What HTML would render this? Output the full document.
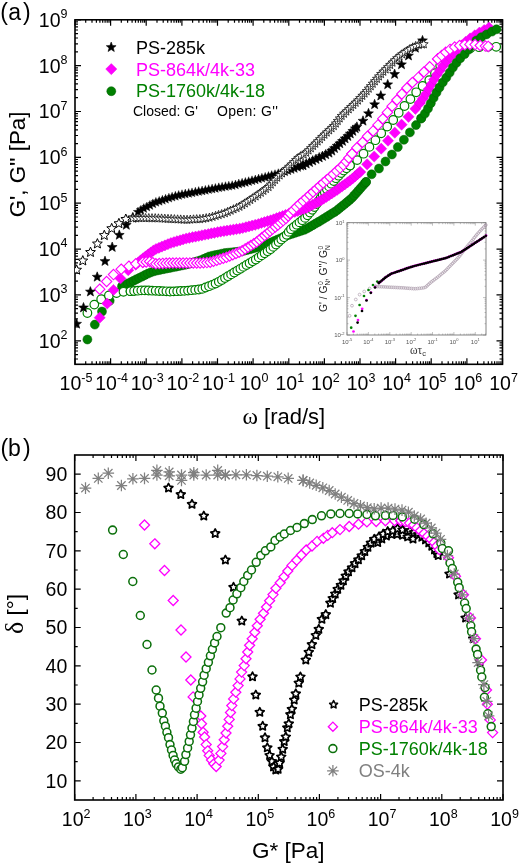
<!DOCTYPE html>
<html><head><meta charset="utf-8"><title>Rheology figure</title>
<style>html,body{margin:0;padding:0;background:#fff;width:520px;height:865px;overflow:hidden}svg{display:block;filter:blur(0.4px)}text{font-family:"Liberation Sans",sans-serif}</style>
</head><body>
<svg width="520" height="865" viewBox="0 0 520 865" font-family='"Liberation Sans", sans-serif'><defs><clipPath id="clipT"><rect x="75" y="19.8" width="427.5" height="344.5"/></clipPath><clipPath id="clipB"><rect x="74.7" y="455" width="428.3" height="345"/></clipPath></defs><defs><path id="sf" d="M0,-5.2 L1.3,-1.8 L4.9,-1.6 L2.1,0.7 L3.1,4.2 L0,2.2 L-3.1,4.2 L-2.1,0.7 L-4.9,-1.6 L-1.3,-1.8Z" fill="#000" stroke="#000" stroke-width="0.6" stroke-linejoin="round"/><path id="sfs" d="M0,-4.9 L1.2,-1.7 L4.7,-1.5 L2,0.6 L2.9,4 L0,2.1 L-2.9,4 L-2,0.6 L-4.7,-1.5 L-1.2,-1.7Z" fill="#000" stroke="#000" stroke-width="0.4" stroke-linejoin="round"/><path id="so" d="M0,-4.6 L1.4,-1.9 L4.4,-1.4 L2.2,0.7 L2.7,3.7 L0,2.3 L-2.7,3.7 L-2.2,0.7 L-4.4,-1.4 L-1.4,-1.9Z" fill="#fff" stroke="#000" stroke-width="1.7" stroke-linejoin="round"/><path id="sot" d="M0,-5.2 L1.4,-1.9 L4.9,-1.6 L2.2,0.7 L3.1,4.2 L0,2.3 L-3.1,4.2 L-2.2,0.7 L-4.9,-1.6 L-1.4,-1.9Z" fill="#fff" stroke="#000" stroke-width="1.0" stroke-linejoin="round"/><path id="sos" d="M0,-4.6 L1.2,-1.6 L4.4,-1.4 L1.9,0.6 L2.7,3.7 L0,2 L-2.7,3.7 L-1.9,0.6 L-4.4,-1.4 L-1.2,-1.6Z" fill="#fff" stroke="#000" stroke-width="0.75" stroke-linejoin="round"/><path id="dfm" d="M0,-5.6L5.6,0L0,5.6L-5.6,0Z" fill="#ff00ff" stroke="#e000e0" stroke-width="0.4"/><path id="dom" d="M0,-5.2L5.2,0L0,5.2L-5.2,0Z" fill="#fff" stroke="#ff00ff" stroke-width="1.1"/><path id="dob" d="M0,-5L5,0L0,5L-5,0Z" fill="#fff" stroke="#ff00ff" stroke-width="1.3"/><circle id="cob" r="3.95" fill="#fff" stroke="#0c700c" stroke-width="1.55"/><path id="sol" d="M0,-4.1 L1.2,-1.6 L3.9,-1.3 L1.9,0.6 L2.4,3.3 L0,2 L-2.4,3.3 L-1.9,0.6 L-3.9,-1.3 L-1.2,-1.6Z" fill="#fff" stroke="#000" stroke-width="1.6" stroke-linejoin="round"/><path id="dol" d="M0,-4.6L4.6,0L0,4.6L-4.6,0Z" fill="#fff" stroke="#ff00ff" stroke-width="1.3"/><circle id="cfg" r="4.5" fill="#008000" stroke="#006000" stroke-width="0.5"/><circle id="cog" r="4.3" fill="#fff" stroke="#008000" stroke-width="1.2"/><circle id="cogb" r="4" fill="none" stroke="#0a7a0a" stroke-width="1.3"/><path id="ast" d="M0,-5.8V5.8M-5.8,0H5.8M-4.2,-4.2L4.2,4.2M-4.2,4.2L4.2,-4.2" stroke="#808080" stroke-width="1.25" fill="none"/><circle id="ik" r="1.35" fill="#000"/><circle id="im" r="1.35" fill="#ff00ff"/><circle id="ig" r="1.35" fill="#008000"/><circle id="io" r="1.4" fill="none" stroke="#a898a8" stroke-width="0.65"/></defs><g><path d="M75,364.3v-6M75,19.8v6M85.7,364.3v-3M85.7,19.8v3M92,364.3v-3M92,19.8v3M96.4,364.3v-3M96.4,19.8v3M99.9,364.3v-3M99.9,19.8v3M102.7,364.3v-3M102.7,19.8v3M105.1,364.3v-3M105.1,19.8v3M107.2,364.3v-3M107.2,19.8v3M109,364.3v-3M109,19.8v3M110.6,364.3v-6M110.6,19.8v6M121.3,364.3v-3M121.3,19.8v3M127.6,364.3v-3M127.6,19.8v3M132.1,364.3v-3M132.1,19.8v3M135.5,364.3v-3M135.5,19.8v3M138.3,364.3v-3M138.3,19.8v3M140.7,364.3v-3M140.7,19.8v3M142.8,364.3v-3M142.8,19.8v3M144.6,364.3v-3M144.6,19.8v3M146.2,364.3v-6M146.2,19.8v6M157,364.3v-3M157,19.8v3M163.2,364.3v-3M163.2,19.8v3M167.7,364.3v-3M167.7,19.8v3M171.2,364.3v-3M171.2,19.8v3M174,364.3v-3M174,19.8v3M176.4,364.3v-3M176.4,19.8v3M178.4,364.3v-3M178.4,19.8v3M180.2,364.3v-3M180.2,19.8v3M181.9,364.3v-6M181.9,19.8v6M192.6,364.3v-3M192.6,19.8v3M198.9,364.3v-3M198.9,19.8v3M203.3,364.3v-3M203.3,19.8v3M206.8,364.3v-3M206.8,19.8v3M209.6,364.3v-3M209.6,19.8v3M212,364.3v-3M212,19.8v3M214,364.3v-3M214,19.8v3M215.9,364.3v-3M215.9,19.8v3M217.5,364.3v-6M217.5,19.8v6M228.2,364.3v-3M228.2,19.8v3M234.5,364.3v-3M234.5,19.8v3M238.9,364.3v-3M238.9,19.8v3M242.4,364.3v-3M242.4,19.8v3M245.2,364.3v-3M245.2,19.8v3M247.6,364.3v-3M247.6,19.8v3M249.7,364.3v-3M249.7,19.8v3M251.5,364.3v-3M251.5,19.8v3M253.1,364.3v-6M253.1,19.8v6M263.8,364.3v-3M263.8,19.8v3M270.1,364.3v-3M270.1,19.8v3M274.6,364.3v-3M274.6,19.8v3M278,364.3v-3M278,19.8v3M280.8,364.3v-3M280.8,19.8v3M283.2,364.3v-3M283.2,19.8v3M285.3,364.3v-3M285.3,19.8v3M287.1,364.3v-3M287.1,19.8v3M288.8,364.3v-6M288.8,19.8v6M299.5,364.3v-3M299.5,19.8v3M305.7,364.3v-3M305.7,19.8v3M310.2,364.3v-3M310.2,19.8v3M313.7,364.3v-3M313.7,19.8v3M316.5,364.3v-3M316.5,19.8v3M318.9,364.3v-3M318.9,19.8v3M320.9,364.3v-3M320.9,19.8v3M322.7,364.3v-3M322.7,19.8v3M324.4,364.3v-6M324.4,19.8v6M335.1,364.3v-3M335.1,19.8v3M341.4,364.3v-3M341.4,19.8v3M345.8,364.3v-3M345.8,19.8v3M349.3,364.3v-3M349.3,19.8v3M352.1,364.3v-3M352.1,19.8v3M354.5,364.3v-3M354.5,19.8v3M356.5,364.3v-3M356.5,19.8v3M358.4,364.3v-3M358.4,19.8v3M360,364.3v-6M360,19.8v6M370.7,364.3v-3M370.7,19.8v3M377,364.3v-3M377,19.8v3M381.4,364.3v-3M381.4,19.8v3M384.9,364.3v-3M384.9,19.8v3M387.7,364.3v-3M387.7,19.8v3M390.1,364.3v-3M390.1,19.8v3M392.2,364.3v-3M392.2,19.8v3M394,364.3v-3M394,19.8v3M395.6,364.3v-6M395.6,19.8v6M406.3,364.3v-3M406.3,19.8v3M412.6,364.3v-3M412.6,19.8v3M417.1,364.3v-3M417.1,19.8v3M420.5,364.3v-3M420.5,19.8v3M423.3,364.3v-3M423.3,19.8v3M425.7,364.3v-3M425.7,19.8v3M427.8,364.3v-3M427.8,19.8v3M429.6,364.3v-3M429.6,19.8v3M431.2,364.3v-6M431.2,19.8v6M442,364.3v-3M442,19.8v3M448.2,364.3v-3M448.2,19.8v3M452.7,364.3v-3M452.7,19.8v3M456.2,364.3v-3M456.2,19.8v3M459,364.3v-3M459,19.8v3M461.4,364.3v-3M461.4,19.8v3M463.4,364.3v-3M463.4,19.8v3M465.2,364.3v-3M465.2,19.8v3M466.9,364.3v-6M466.9,19.8v6M477.6,364.3v-3M477.6,19.8v3M483.9,364.3v-3M483.9,19.8v3M488.3,364.3v-3M488.3,19.8v3M491.8,364.3v-3M491.8,19.8v3M494.6,364.3v-3M494.6,19.8v3M497,364.3v-3M497,19.8v3M499,364.3v-3M499,19.8v3M500.9,364.3v-3M500.9,19.8v3M502.5,364.3v-6M502.5,19.8v6" stroke="#000" stroke-width="1.2" fill="none"/><path d="M75,359h3M502.5,359h-3M75,354.6h3M502.5,354.6h-3M75,351h3M502.5,351h-3M75,347.9h3M502.5,347.9h-3M75,345.2h3M502.5,345.2h-3M75,342.9h3M502.5,342.9h-3M75,340.8h6M502.5,340.8h-6M75,327h3M502.5,327h-3M75,318.9h3M502.5,318.9h-3M75,313.2h3M502.5,313.2h-3M75,308.7h3M502.5,308.7h-3M75,305.1h3M502.5,305.1h-3M75,302h3M502.5,302h-3M75,299.4h3M502.5,299.4h-3M75,297h3M502.5,297h-3M75,294.9h6M502.5,294.9h-6M75,281.1h3M502.5,281.1h-3M75,273.1h3M502.5,273.1h-3M75,267.3h3M502.5,267.3h-3M75,262.9h3M502.5,262.9h-3M75,259.3h3M502.5,259.3h-3M75,256.2h3M502.5,256.2h-3M75,253.5h3M502.5,253.5h-3M75,251.2h3M502.5,251.2h-3M75,249.1h6M502.5,249.1h-6M75,235.3h3M502.5,235.3h-3M75,227.2h3M502.5,227.2h-3M75,221.5h3M502.5,221.5h-3M75,217h3M502.5,217h-3M75,213.4h3M502.5,213.4h-3M75,210.3h3M502.5,210.3h-3M75,207.7h3M502.5,207.7h-3M75,205.3h3M502.5,205.3h-3M75,203.2h6M502.5,203.2h-6M75,189.4h3M502.5,189.4h-3M75,181.3h3M502.5,181.3h-3M75,175.6h3M502.5,175.6h-3M75,171.2h3M502.5,171.2h-3M75,167.5h3M502.5,167.5h-3M75,164.5h3M502.5,164.5h-3M75,161.8h3M502.5,161.8h-3M75,159.5h3M502.5,159.5h-3M75,157.4h6M502.5,157.4h-6M75,143.6h3M502.5,143.6h-3M75,135.5h3M502.5,135.5h-3M75,129.8h3M502.5,129.8h-3M75,125.3h3M502.5,125.3h-3M75,121.7h3M502.5,121.7h-3M75,118.6h3M502.5,118.6h-3M75,116h3M502.5,116h-3M75,113.6h3M502.5,113.6h-3M75,111.5h6M502.5,111.5h-6M75,97.7h3M502.5,97.7h-3M75,89.6h3M502.5,89.6h-3M75,83.9h3M502.5,83.9h-3M75,79.5h3M502.5,79.5h-3M75,75.8h3M502.5,75.8h-3M75,72.8h3M502.5,72.8h-3M75,70.1h3M502.5,70.1h-3M75,67.8h3M502.5,67.8h-3M75,65.7h6M502.5,65.7h-6M75,51.9h3M502.5,51.9h-3M75,43.8h3M502.5,43.8h-3M75,38h3M502.5,38h-3M75,33.6h3M502.5,33.6h-3M75,30h3M502.5,30h-3M75,26.9h3M502.5,26.9h-3M75,24.2h3M502.5,24.2h-3M75,21.9h3M502.5,21.9h-3M75,19.8h6M502.5,19.8h-6" stroke="#000" stroke-width="1.2" fill="none"/><rect x="75" y="19.8" width="427.5" height="344.5" fill="none" stroke="#000" stroke-width="1.6"/><text x="67.5" y="347.6" font-size="19.5" text-anchor="end" fill="#000">10<tspan font-size="12.5" dy="-8.5">2</tspan></text><text x="67.5" y="301.7" font-size="19.5" text-anchor="end" fill="#000">10<tspan font-size="12.5" dy="-8.5">3</tspan></text><text x="67.5" y="255.9" font-size="19.5" text-anchor="end" fill="#000">10<tspan font-size="12.5" dy="-8.5">4</tspan></text><text x="67.5" y="210" font-size="19.5" text-anchor="end" fill="#000">10<tspan font-size="12.5" dy="-8.5">5</tspan></text><text x="67.5" y="164.2" font-size="19.5" text-anchor="end" fill="#000">10<tspan font-size="12.5" dy="-8.5">6</tspan></text><text x="67.5" y="118.3" font-size="19.5" text-anchor="end" fill="#000">10<tspan font-size="12.5" dy="-8.5">7</tspan></text><text x="67.5" y="72.5" font-size="19.5" text-anchor="end" fill="#000">10<tspan font-size="12.5" dy="-8.5">8</tspan></text><text x="67.5" y="26.6" font-size="19.5" text-anchor="end" fill="#000">10<tspan font-size="12.5" dy="-8.5">9</tspan></text><text x="76" y="390" font-size="19.5" text-anchor="middle" fill="#000">10<tspan font-size="12.5" dy="-8.5">-5</tspan></text><text x="111.6" y="390" font-size="19.5" text-anchor="middle" fill="#000">10<tspan font-size="12.5" dy="-8.5">-4</tspan></text><text x="147.2" y="390" font-size="19.5" text-anchor="middle" fill="#000">10<tspan font-size="12.5" dy="-8.5">-3</tspan></text><text x="182.9" y="390" font-size="19.5" text-anchor="middle" fill="#000">10<tspan font-size="12.5" dy="-8.5">-2</tspan></text><text x="218.5" y="390" font-size="19.5" text-anchor="middle" fill="#000">10<tspan font-size="12.5" dy="-8.5">-1</tspan></text><text x="254.1" y="390" font-size="19.5" text-anchor="middle" fill="#000">10<tspan font-size="12.5" dy="-8.5">0</tspan></text><text x="289.8" y="390" font-size="19.5" text-anchor="middle" fill="#000">10<tspan font-size="12.5" dy="-8.5">1</tspan></text><text x="325.4" y="390" font-size="19.5" text-anchor="middle" fill="#000">10<tspan font-size="12.5" dy="-8.5">2</tspan></text><text x="361" y="390" font-size="19.5" text-anchor="middle" fill="#000">10<tspan font-size="12.5" dy="-8.5">3</tspan></text><text x="396.6" y="390" font-size="19.5" text-anchor="middle" fill="#000">10<tspan font-size="12.5" dy="-8.5">4</tspan></text><text x="432.2" y="390" font-size="19.5" text-anchor="middle" fill="#000">10<tspan font-size="12.5" dy="-8.5">5</tspan></text><text x="467.9" y="390" font-size="19.5" text-anchor="middle" fill="#000">10<tspan font-size="12.5" dy="-8.5">6</tspan></text><text x="503.5" y="390" font-size="19.5" text-anchor="middle" fill="#000">10<tspan font-size="12.5" dy="-8.5">7</tspan></text></g><text x="0.3" y="19.8" font-size="23" text-anchor="start" fill="#000">(</text><text x="8.3" y="19.8" font-size="23" text-anchor="start" fill="#000">a</text><text x="23.1" y="19.8" font-size="23" text-anchor="start" fill="#000">)</text><text x="0" y="0" font-size="22.3" text-anchor="middle" transform="translate(25,164.5) rotate(-90)">G', G'' [Pa]</text><text x="283.8" y="424" font-size="22" text-anchor="middle"><tspan font-family="Liberation Serif" font-size="23.5">ω</tspan> [rad/s]</text><use href="#sf" x="111.2" y="47.3"/><use href="#dfm" x="111.3" y="69.1"/><use href="#cfg" x="111.3" y="91.2"/><text x="136" y="53.6" font-size="18" text-anchor="start" fill="#000">PS-285k</text><text x="136" y="75.5" font-size="18" text-anchor="start" fill="#ff00ff">PS-864k/4k-33</text><text x="136" y="97.3" font-size="18" text-anchor="start" fill="#008000">PS-1760k/4k-18</text><text x="133" y="116" font-size="14" text-anchor="start" fill="#000">Closed: G'</text><text x="217" y="116" font-size="14" text-anchor="start" fill="#000" textLength="61" lengthAdjust="spacing">Open: G''</text><g clip-path="url(#clipT)"><use href="#cfg" x="87.4" y="339.5"/><use href="#cfg" x="94.8" y="324.6"/><use href="#cfg" x="102" y="311.5"/><use href="#cfg" x="109.7" y="300.8"/><use href="#cfg" x="116" y="292.5"/><use href="#cfg" x="122" y="286.2"/><use href="#cfg" x="124.9" y="284.9"/><use href="#cfg" x="127.8" y="283.5"/><use href="#cfg" x="130.7" y="282.2"/><use href="#cfg" x="133.6" y="280.8"/><use href="#cfg" x="136.4" y="279.3"/><use href="#cfg" x="139.3" y="277.9"/><use href="#cfg" x="142.2" y="276.5"/><use href="#cfg" x="145" y="275"/><use href="#cfg" x="147.9" y="273.6"/><use href="#cfg" x="150.8" y="272.4"/><use href="#cfg" x="153.9" y="271.3"/><use href="#cfg" x="156.9" y="270.5"/><use href="#cfg" x="160.1" y="269.9"/><use href="#cfg" x="163.2" y="269.2"/><use href="#cfg" x="166.4" y="268.6"/><use href="#cfg" x="169.5" y="268"/><use href="#cfg" x="172.6" y="267.3"/><use href="#cfg" x="175.8" y="266.7"/><use href="#cfg" x="178.9" y="266.1"/><use href="#cfg" x="182" y="265.4"/><use href="#cfg" x="185.2" y="264.8"/><use href="#cfg" x="188.3" y="264"/><use href="#cfg" x="191.3" y="263.1"/><use href="#cfg" x="194.4" y="262.1"/><use href="#cfg" x="197.5" y="261.2"/><use href="#cfg" x="200.5" y="260.3"/><use href="#cfg" x="203.5" y="259.1"/><use href="#cfg" x="206.4" y="257.8"/><use href="#cfg" x="209.3" y="256.5"/><use href="#cfg" x="212.4" y="255.7"/><use href="#cfg" x="215.6" y="255"/><use href="#cfg" x="218.7" y="254.4"/><use href="#cfg" x="221.8" y="253.7"/><use href="#cfg" x="224.9" y="253.1"/><use href="#cfg" x="228.1" y="252.7"/><use href="#cfg" x="231.3" y="252.4"/><use href="#cfg" x="234.5" y="252.1"/><use href="#cfg" x="237.7" y="251.8"/><use href="#cfg" x="240.9" y="251.5"/><use href="#cfg" x="244" y="250.7"/><use href="#cfg" x="247.1" y="250"/><use href="#cfg" x="250.2" y="249.2"/><use href="#cfg" x="253.3" y="248.4"/><use href="#cfg" x="256.4" y="247.6"/><use href="#cfg" x="259.4" y="246.6"/><use href="#cfg" x="262.4" y="245.5"/><use href="#cfg" x="265.4" y="244.4"/><use href="#cfg" x="268.5" y="243.4"/><use href="#cfg" x="271.5" y="242.3"/><use href="#cfg" x="274.4" y="241"/><use href="#cfg" x="277.3" y="239.7"/><use href="#cfg" x="280.3" y="238.4"/><use href="#cfg" x="283.2" y="237.1"/><use href="#cfg" x="286.1" y="235.8"/><use href="#cfg" x="289.1" y="234.8"/><use href="#cfg" x="292.2" y="233.8"/><use href="#cfg" x="295.2" y="232.8"/><use href="#cfg" x="298.3" y="231.8"/><use href="#cfg" x="301.3" y="230.8"/><use href="#cfg" x="304.4" y="229.8"/><use href="#cfg" x="307.2" y="228.4"/><use href="#cfg" x="310" y="226.8"/><use href="#cfg" x="312.7" y="225.2"/><use href="#cfg" x="315.5" y="223.6"/><use href="#cfg" x="318.3" y="222"/><use href="#cfg" x="321" y="220.4"/><use href="#cfg" x="323.7" y="218.7"/><use href="#cfg" x="326.5" y="217"/><use href="#cfg" x="329.2" y="215.3"/><use href="#cfg" x="331.9" y="213.6"/><use href="#cfg" x="334.6" y="212"/><use href="#cfg" x="337.3" y="210.1"/><use href="#cfg" x="339.7" y="208.1"/><use href="#cfg" x="342.2" y="206.1"/><use href="#cfg" x="344.7" y="204.1"/><use href="#cfg" x="347.2" y="202"/><use href="#cfg" x="349.6" y="200"/><use href="#cfg" x="352" y="197.9"/><use href="#cfg" x="354.1" y="195.5"/><use href="#cfg" x="356.3" y="193.1"/><use href="#cfg" x="358.4" y="190.7"/><use href="#cfg" x="360.5" y="188.3"/><use href="#cfg" x="362.6" y="185.9"/><use href="#cfg" x="364.7" y="183.5"/><use href="#cfg" x="366" y="182"/><use href="#cog" x="87.4" y="313"/><use href="#cog" x="94.3" y="304.6"/><use href="#cog" x="101.2" y="299.2"/><use href="#cog" x="108.9" y="295.4"/><use href="#cog" x="116.6" y="293"/><use href="#cog" x="123.5" y="291.8"/><use href="#cog" x="130.5" y="291.2"/><use href="#cog" x="130.5" y="291.2"/><use href="#cog" x="134.1" y="291"/><use href="#cog" x="137.7" y="290.7"/><use href="#cog" x="141.3" y="290.4"/><use href="#cog" x="144.9" y="290.4"/><use href="#cog" x="148.5" y="290.5"/><use href="#cog" x="152.1" y="290.7"/><use href="#cog" x="155.7" y="290.8"/><use href="#cog" x="159.3" y="291"/><use href="#cog" x="162.8" y="291.1"/><use href="#cog" x="166.4" y="291.3"/><use href="#cog" x="170" y="291.5"/><use href="#cog" x="173.6" y="291.4"/><use href="#cog" x="177.2" y="291.2"/><use href="#cog" x="180.8" y="291"/><use href="#cog" x="184.4" y="290.9"/><use href="#cog" x="188" y="290.6"/><use href="#cog" x="191.6" y="290.2"/><use href="#cog" x="195.2" y="289.9"/><use href="#cog" x="198.8" y="289.5"/><use href="#cog" x="202.3" y="288.9"/><use href="#cog" x="205.6" y="287.5"/><use href="#cog" x="209" y="286.2"/><use href="#cog" x="212.3" y="284.9"/><use href="#cog" x="215.6" y="283.5"/><use href="#cog" x="218.8" y="281.8"/><use href="#cog" x="221.9" y="280"/><use href="#cog" x="225" y="278.1"/><use href="#cog" x="228" y="276.2"/><use href="#cog" x="231.1" y="274.4"/><use href="#cog" x="234.2" y="272.5"/><use href="#cog" x="237.3" y="270.6"/><use href="#cog" x="240.4" y="268.8"/><use href="#cog" x="243.4" y="266.9"/><use href="#cog" x="246.5" y="265"/><use href="#cog" x="249.6" y="263.2"/><use href="#cog" x="252.7" y="261.3"/><use href="#cog" x="255.8" y="259.5"/><use href="#cog" x="258.7" y="257.4"/><use href="#cog" x="261.7" y="255.4"/><use href="#cog" x="264.6" y="253.3"/><use href="#cog" x="267.6" y="251.2"/><use href="#cog" x="270.5" y="249.2"/><use href="#cog" x="273.3" y="246.9"/><use href="#cog" x="276" y="244.5"/><use href="#cog" x="278.6" y="242.1"/><use href="#cog" x="281.3" y="239.6"/><use href="#cog" x="284" y="237.2"/><use href="#cog" x="286.7" y="234.8"/><use href="#cog" x="288.7" y="231.9"/><use href="#cog" x="291" y="229.2"/><use href="#cog" x="293.9" y="226.9"/><use href="#cog" x="296.7" y="224.7"/><use href="#cog" x="299.5" y="222.4"/><use href="#cog" x="302.3" y="220.2"/><use href="#cog" x="305.1" y="217.9"/><use href="#cog" x="307.5" y="215.3"/><use href="#cog" x="309.9" y="212.6"/><use href="#cog" x="312.3" y="209.8"/><use href="#cog" x="314.4" y="207"/><use href="#cog" x="316.5" y="204"/><use href="#cog" x="318.5" y="201.1"/><use href="#cog" x="320.6" y="198.1"/><use href="#cog" x="322.7" y="195.2"/><use href="#cog" x="324.8" y="192.3"/><use href="#cog" x="326.9" y="189.3"/><use href="#cog" x="329" y="186.4"/><use href="#cog" x="331.3" y="183.7"/><use href="#cog" x="333.7" y="181"/><use href="#cog" x="336" y="178.2"/><use href="#cog" x="338.6" y="175.7"/><use href="#cog" x="341.1" y="173.1"/><use href="#cog" x="343.7" y="170.6"/><use href="#cog" x="346.5" y="168.3"/><use href="#cog" x="350" y="165.5"/><use href="#cog" x="350" y="165.5"/><use href="#cog" x="357.2" y="160.1"/><use href="#cog" x="363.5" y="153.7"/><use href="#cog" x="369.4" y="146.9"/><use href="#cog" x="375.4" y="140.2"/><use href="#cog" x="381.2" y="133.3"/><use href="#cog" x="387.2" y="126.6"/><use href="#cog" x="393.2" y="120"/><use href="#cog" x="398.7" y="112.8"/><use href="#cog" x="404.5" y="106"/><use href="#cog" x="410.4" y="99.1"/><use href="#cog" x="416.2" y="92.3"/><use href="#cog" x="422.6" y="86"/><use href="#cog" x="429.3" y="80.1"/><use href="#cog" x="435" y="73.2"/><use href="#cog" x="440.2" y="65.8"/><use href="#cog" x="446.1" y="59"/><use href="#cog" x="453.1" y="53.4"/><use href="#cog" x="461.5" y="50.4"/><use href="#cog" x="470.3" y="48.4"/><use href="#cog" x="479.1" y="47.2"/><use href="#cog" x="488.1" y="46.8"/><use href="#cog" x="496.2" y="46.8"/><use href="#dfm" x="99.7" y="317.7"/><use href="#dfm" x="107.2" y="303.5"/><use href="#dfm" x="113.5" y="290"/><use href="#dfm" x="120.5" y="278.5"/><use href="#dfm" x="128.2" y="270.2"/><use href="#dfm" x="135.8" y="264.6"/><use href="#dfm" x="138.2" y="262.5"/><use href="#dfm" x="140.6" y="260.4"/><use href="#dfm" x="143.1" y="258.3"/><use href="#dfm" x="145.6" y="256.4"/><use href="#dfm" x="148.2" y="254.4"/><use href="#dfm" x="150.7" y="252.6"/><use href="#dfm" x="153.3" y="250.7"/><use href="#dfm" x="156" y="249"/><use href="#dfm" x="159" y="247.8"/><use href="#dfm" x="161.9" y="246.6"/><use href="#dfm" x="164.9" y="245.4"/><use href="#dfm" x="167.9" y="244.2"/><use href="#dfm" x="170.9" y="243"/><use href="#dfm" x="173.9" y="242.1"/><use href="#dfm" x="177" y="241.2"/><use href="#dfm" x="180.1" y="240.3"/><use href="#dfm" x="183.1" y="239.4"/><use href="#dfm" x="186.2" y="238.5"/><use href="#dfm" x="189.3" y="237.9"/><use href="#dfm" x="192.5" y="237.2"/><use href="#dfm" x="195.6" y="236.6"/><use href="#dfm" x="198.8" y="236"/><use href="#dfm" x="201.9" y="235.3"/><use href="#dfm" x="205" y="234.7"/><use href="#dfm" x="208.2" y="234.1"/><use href="#dfm" x="211.3" y="233.4"/><use href="#dfm" x="214.4" y="232.8"/><use href="#dfm" x="217.6" y="232.2"/><use href="#dfm" x="220.7" y="231.6"/><use href="#dfm" x="223.9" y="231.1"/><use href="#dfm" x="227" y="230.6"/><use href="#dfm" x="230.2" y="230.1"/><use href="#dfm" x="233.4" y="229.6"/><use href="#dfm" x="236.5" y="229.1"/><use href="#dfm" x="239.7" y="228.7"/><use href="#dfm" x="242.8" y="228"/><use href="#dfm" x="245.9" y="227.2"/><use href="#dfm" x="249" y="226.4"/><use href="#dfm" x="252.1" y="225.6"/><use href="#dfm" x="255.2" y="224.8"/><use href="#dfm" x="258.3" y="224"/><use href="#dfm" x="261.4" y="223"/><use href="#dfm" x="264.4" y="222.1"/><use href="#dfm" x="267.5" y="221.2"/><use href="#dfm" x="270.6" y="220.3"/><use href="#dfm" x="273.6" y="219.3"/><use href="#dfm" x="276.6" y="218.2"/><use href="#dfm" x="279.6" y="217.1"/><use href="#dfm" x="282.6" y="216"/><use href="#dfm" x="285.6" y="214.9"/><use href="#dfm" x="288.7" y="213.9"/><use href="#dfm" x="291.7" y="212.9"/><use href="#dfm" x="294.8" y="211.9"/><use href="#dfm" x="297.8" y="211"/><use href="#dfm" x="300.9" y="210"/><use href="#dfm" x="303.9" y="209"/><use href="#dfm" x="306.8" y="207.8"/><use href="#dfm" x="309.7" y="206.3"/><use href="#dfm" x="312.5" y="204.8"/><use href="#dfm" x="315.4" y="203.3"/><use href="#dfm" x="318.2" y="201.9"/><use href="#dfm" x="321" y="200.4"/><use href="#dfm" x="323.7" y="198.6"/><use href="#dfm" x="326.4" y="196.9"/><use href="#dfm" x="329.1" y="195.1"/><use href="#dfm" x="331.8" y="193.4"/><use href="#dfm" x="334.4" y="191.6"/><use href="#dfm" x="337.1" y="189.9"/><use href="#dfm" x="339.7" y="188"/><use href="#dfm" x="342.3" y="186.1"/><use href="#dfm" x="344.9" y="184.3"/><use href="#dfm" x="347.5" y="182.4"/><use href="#dfm" x="350.1" y="180.5"/><use href="#dfm" x="352.6" y="178.5"/><use href="#dfm" x="355" y="176.4"/><use href="#dfm" x="357.4" y="174.3"/><use href="#dfm" x="360" y="172"/><use href="#dfm" x="360" y="172"/><use href="#dfm" x="367.1" y="164.3"/><use href="#dfm" x="374.2" y="156.5"/><use href="#dfm" x="381.2" y="148.7"/><use href="#dfm" x="388" y="140.7"/><use href="#dfm" x="394.8" y="132.7"/><use href="#dfm" x="401.6" y="124.7"/><use href="#dfm" x="408.5" y="116.8"/><use href="#dfm" x="415.4" y="108.8"/><use href="#dfm" x="419.8" y="103"/><use href="#dfm" x="419.8" y="103"/><use href="#dfm" x="422.9" y="98.5"/><use href="#dfm" x="426" y="93.9"/><use href="#dfm" x="428.7" y="89.1"/><use href="#dfm" x="431.4" y="84.3"/><use href="#dfm" x="434.1" y="79.5"/><use href="#dfm" x="436.8" y="74.8"/><use href="#dfm" x="440" y="70.3"/><use href="#dfm" x="443.2" y="65.8"/><use href="#dfm" x="446.6" y="61.5"/><use href="#dfm" x="450" y="57.2"/><use href="#dfm" x="453.8" y="53.2"/><use href="#dfm" x="457.7" y="49.3"/><use href="#dfm" x="461.6" y="45.4"/><use href="#dfm" x="465.7" y="41.8"/><use href="#dfm" x="470.1" y="38.4"/><use href="#dfm" x="474.7" y="35.4"/><use href="#dfm" x="479.4" y="32.6"/><use href="#dfm" x="484.2" y="30"/><use href="#dfm" x="489" y="27.5"/><use href="#cfg" x="366" y="182"/><use href="#cfg" x="371.6" y="174.3"/><use href="#cfg" x="379" y="168.5"/><use href="#cfg" x="385.5" y="161.5"/><use href="#cfg" x="391.9" y="154.5"/><use href="#cfg" x="397.8" y="147.1"/><use href="#cfg" x="403.9" y="139.8"/><use href="#cfg" x="409.9" y="132.4"/><use href="#cfg" x="416" y="125.1"/><use href="#cfg" x="421.2" y="118.4"/><use href="#cfg" x="421.2" y="118.4"/><use href="#cfg" x="424.9" y="113.6"/><use href="#cfg" x="428" y="108.5"/><use href="#cfg" x="430.8" y="103.2"/><use href="#cfg" x="433.6" y="97.9"/><use href="#cfg" x="436.5" y="92.6"/><use href="#cfg" x="439.5" y="87.5"/><use href="#cfg" x="442.8" y="82.4"/><use href="#cfg" x="446.3" y="77.6"/><use href="#cfg" x="449.7" y="72.6"/><use href="#cfg" x="452.9" y="67.5"/><use href="#cfg" x="456.5" y="62.8"/><use href="#cfg" x="460.3" y="58.2"/><use href="#cfg" x="464.7" y="54.1"/><use href="#cfg" x="468.7" y="49.6"/><use href="#cfg" x="472.6" y="45"/><use href="#cfg" x="476.4" y="40.4"/><use href="#cfg" x="481.3" y="37.2"/><use href="#cfg" x="486.6" y="34.4"/><use href="#cfg" x="491.9" y="31.6"/><use href="#cfg" x="496.5" y="29.3"/><use href="#dom" x="99.7" y="289.2"/><use href="#dom" x="106.6" y="281.5"/><use href="#dom" x="113.5" y="274.6"/><use href="#dom" x="121.2" y="269.2"/><use href="#dom" x="128.9" y="266.2"/><use href="#dom" x="135.8" y="263.8"/><use href="#dom" x="142.8" y="262.3"/><use href="#dom" x="142.8" y="262.3"/><use href="#dom" x="146.2" y="261.9"/><use href="#dom" x="149.6" y="261.5"/><use href="#dom" x="152.7" y="262.7"/><use href="#dom" x="155.9" y="263.8"/><use href="#dom" x="159.3" y="263.6"/><use href="#dom" x="162.7" y="263.4"/><use href="#dom" x="166.1" y="263.2"/><use href="#dom" x="169.5" y="263.1"/><use href="#dom" x="172.9" y="263"/><use href="#dom" x="176.3" y="263"/><use href="#dom" x="179.7" y="263"/><use href="#dom" x="183.1" y="263"/><use href="#dom" x="186.5" y="263"/><use href="#dom" x="189.9" y="263"/><use href="#dom" x="193.3" y="263"/><use href="#dom" x="196.7" y="263"/><use href="#dom" x="200.1" y="263"/><use href="#dom" x="203.5" y="262.8"/><use href="#dom" x="206.9" y="262.6"/><use href="#dom" x="210.2" y="262.2"/><use href="#dom" x="213.5" y="261.3"/><use href="#dom" x="216.8" y="260.3"/><use href="#dom" x="220" y="259.3"/><use href="#dom" x="223.3" y="258.3"/><use href="#dom" x="226.5" y="257.3"/><use href="#dom" x="229.7" y="256"/><use href="#dom" x="232.8" y="254.7"/><use href="#dom" x="236" y="253.4"/><use href="#dom" x="239.1" y="252.2"/><use href="#dom" x="242.2" y="250.7"/><use href="#dom" x="245.1" y="248.9"/><use href="#dom" x="248" y="247.2"/><use href="#dom" x="250.9" y="245.5"/><use href="#dom" x="253.8" y="243.7"/><use href="#dom" x="256.7" y="241.9"/><use href="#dom" x="259.4" y="239.8"/><use href="#dom" x="262" y="237.6"/><use href="#dom" x="264.7" y="235.5"/><use href="#dom" x="267.3" y="233.4"/><use href="#dom" x="270" y="231.2"/><use href="#dom" x="272.6" y="229.1"/><use href="#dom" x="275.3" y="227"/><use href="#dom" x="277.9" y="224.9"/><use href="#dom" x="280.6" y="222.8"/><use href="#dom" x="283.2" y="220.6"/><use href="#dom" x="285.9" y="218.5"/><use href="#dom" x="288.2" y="216"/><use href="#dom" x="290" y="213.5"/><use href="#dom" x="290" y="213.5"/><use href="#dom" x="293.2" y="210.3"/><use href="#dom" x="296.4" y="207.1"/><use href="#dom" x="299.6" y="204.1"/><use href="#dom" x="303" y="201.1"/><use href="#dom" x="306.4" y="198.1"/><use href="#dom" x="309.7" y="195"/><use href="#dom" x="313" y="192"/><use href="#dom" x="316.4" y="189"/><use href="#dom" x="319.7" y="186"/><use href="#dom" x="323.1" y="183"/><use href="#dom" x="326.5" y="180.1"/><use href="#dom" x="329.9" y="177.2"/><use href="#dom" x="333.3" y="174.2"/><use href="#dom" x="336.6" y="171.1"/><use href="#dom" x="340" y="168.1"/><use href="#dom" x="343.3" y="165.1"/><use href="#dom" x="346.1" y="161.6"/><use href="#dom" x="348.8" y="158"/><use href="#dom" x="352" y="153.8"/><use href="#dom" x="352" y="153.8"/><use href="#dom" x="356.9" y="147.8"/><use href="#dom" x="362.5" y="142.3"/><use href="#dom" x="367.5" y="136.3"/><use href="#dom" x="373.1" y="130.9"/><use href="#dom" x="378" y="124.9"/><use href="#dom" x="382.8" y="118.7"/><use href="#dom" x="387.4" y="112.4"/><use href="#dom" x="392.1" y="106.2"/><use href="#dom" x="396.9" y="100"/><use href="#dom" x="401.8" y="94"/><use href="#dom" x="406.9" y="88"/><use href="#dom" x="412.4" y="82.5"/><use href="#dom" x="418.3" y="77.4"/><use href="#dom" x="423.9" y="72"/><use href="#dom" x="429.7" y="66.8"/><use href="#dom" x="437.7" y="58.9"/><use href="#dom" x="437.7" y="58.9"/><use href="#dom" x="441.7" y="55.6"/><use href="#dom" x="445.7" y="52.3"/><use href="#dom" x="450" y="49.4"/><use href="#dom" x="454.7" y="47.1"/><use href="#dom" x="459.6" y="45.5"/><use href="#dom" x="464.8" y="44.7"/><use href="#dom" x="469.9" y="44.4"/><use href="#dom" x="475.1" y="44.6"/><use href="#dom" x="480.2" y="45.5"/><use href="#dom" x="485.4" y="46.1"/><use href="#dom" x="488.2" y="46.4"/><use href="#sf" x="76.6" y="324"/><use href="#sf" x="83.5" y="307.7"/><use href="#sf" x="90.4" y="291.8"/><use href="#sf" x="97.2" y="277"/><use href="#sf" x="105" y="261.3"/><use href="#sf" x="112.2" y="247.2"/><use href="#sf" x="119.3" y="235.1"/><use href="#sf" x="126.3" y="225.1"/><use href="#sfs" x="138" y="212"/><use href="#sfs" x="140.9" y="210.2"/><use href="#sfs" x="143.8" y="208.5"/><use href="#sfs" x="146.9" y="207"/><use href="#sfs" x="149.9" y="205.4"/><use href="#sfs" x="152.9" y="203.8"/><use href="#sfs" x="155.9" y="202.3"/><use href="#sfs" x="159.2" y="201.3"/><use href="#sfs" x="162.4" y="200.2"/><use href="#sfs" x="165.6" y="199.2"/><use href="#sfs" x="168.9" y="198.1"/><use href="#sfs" x="172.1" y="197.1"/><use href="#sfs" x="175.4" y="196.2"/><use href="#sfs" x="178.7" y="195.4"/><use href="#sfs" x="182" y="194.6"/><use href="#sfs" x="185.3" y="194"/><use href="#sfs" x="188.7" y="193.4"/><use href="#sfs" x="192" y="192.8"/><use href="#sfs" x="195.4" y="192.1"/><use href="#sfs" x="198.7" y="191.5"/><use href="#sfs" x="202.1" y="190.9"/><use href="#sfs" x="205.4" y="190.3"/><use href="#sfs" x="208.7" y="189.6"/><use href="#sfs" x="212.1" y="189"/><use href="#sfs" x="215.4" y="188.4"/><use href="#sfs" x="218.8" y="187.7"/><use href="#sfs" x="222.1" y="187.2"/><use href="#sfs" x="225.5" y="186.6"/><use href="#sfs" x="228.8" y="186.1"/><use href="#sfs" x="232.2" y="185.6"/><use href="#sfs" x="235.5" y="184.9"/><use href="#sfs" x="238.8" y="184"/><use href="#sfs" x="242.1" y="183.2"/><use href="#sfs" x="245.4" y="182.4"/><use href="#sfs" x="248.7" y="181.6"/><use href="#sfs" x="252" y="180.7"/><use href="#sfs" x="255.3" y="179.9"/><use href="#sfs" x="258.6" y="179"/><use href="#sfs" x="261.9" y="178.2"/><use href="#sfs" x="265.2" y="177.3"/><use href="#sfs" x="268.5" y="176.5"/><use href="#sfs" x="271.7" y="175.5"/><use href="#sfs" x="275" y="174.6"/><use href="#sfs" x="278.3" y="173.6"/><use href="#sfs" x="281.5" y="172.7"/><use href="#sfs" x="284.8" y="171.8"/><use href="#sfs" x="288" y="170.7"/><use href="#sfs" x="291.2" y="169.6"/><use href="#sfs" x="294.4" y="168.5"/><use href="#sfs" x="297.7" y="167.4"/><use href="#sfs" x="300.9" y="166.2"/><use href="#sfs" x="303" y="165.5"/><use href="#sf" x="303" y="165.5"/><use href="#sf" x="306.2" y="163.9"/><use href="#sf" x="309.5" y="162.4"/><use href="#sf" x="312.7" y="160.8"/><use href="#sf" x="316" y="159.3"/><use href="#sf" x="319.2" y="157.7"/><use href="#sf" x="322.5" y="156.2"/><use href="#sf" x="325.7" y="154.6"/><use href="#sf" x="329" y="153"/><use href="#sf" x="331.8" y="150.9"/><use href="#sf" x="334.5" y="148.4"/><use href="#sf" x="337.1" y="146"/><use href="#sf" x="339.8" y="143.6"/><use href="#sf" x="342.5" y="141.2"/><use href="#sf" x="345.1" y="138.7"/><use href="#sf" x="347.8" y="136.3"/><use href="#sf" x="350.3" y="133.8"/><use href="#sf" x="352.8" y="131.2"/><use href="#sf" x="355.3" y="128.6"/><use href="#sf" x="356.9" y="127"/><use href="#sf" x="363" y="121"/><use href="#sf" x="368.5" y="113.5"/><use href="#sf" x="374.6" y="104.5"/><use href="#sf" x="380.8" y="95.8"/><use href="#sf" x="387.7" y="84.6"/><use href="#sf" x="394.6" y="74.2"/><use href="#sf" x="401.5" y="64.6"/><use href="#sf" x="408.5" y="55.8"/><use href="#sf" x="415.4" y="48"/><use href="#sf" x="422.5" y="40.6"/><use href="#sot" x="76.6" y="270"/><use href="#sot" x="82.8" y="260.8"/><use href="#sot" x="90.5" y="252.3"/><use href="#sot" x="97.4" y="243.8"/><use href="#sot" x="104.3" y="235.4"/><use href="#sot" x="111.7" y="228.5"/><use href="#sot" x="118.9" y="223.5"/><use href="#sot" x="125.8" y="219.2"/><use href="#sot" x="132.8" y="217.7"/><use href="#sos" x="132.8" y="218.5"/><use href="#sos" x="136" y="218.3"/><use href="#sos" x="139.2" y="218.1"/><use href="#sos" x="142.4" y="218"/><use href="#sos" x="145.6" y="218.1"/><use href="#sos" x="148.8" y="218.1"/><use href="#sos" x="152" y="218.2"/><use href="#sos" x="155.2" y="218.2"/><use href="#sos" x="158.4" y="218.4"/><use href="#sos" x="161.6" y="218.5"/><use href="#sos" x="164.8" y="218.7"/><use href="#sos" x="168" y="218.9"/><use href="#sos" x="171.2" y="219"/><use href="#sos" x="174.4" y="219.2"/><use href="#sos" x="177.6" y="219.4"/><use href="#sos" x="180.7" y="219.5"/><use href="#sos" x="183.9" y="219.7"/><use href="#sos" x="187.1" y="219.8"/><use href="#sos" x="190.3" y="219.6"/><use href="#sos" x="193.5" y="219.4"/><use href="#sos" x="196.7" y="219.2"/><use href="#sos" x="199.9" y="219.1"/><use href="#sos" x="203.1" y="218.7"/><use href="#sos" x="206.2" y="218.2"/><use href="#sos" x="209.4" y="217.6"/><use href="#sos" x="212.5" y="216.8"/><use href="#sos" x="215.6" y="215.9"/><use href="#sos" x="218.6" y="215"/><use href="#sos" x="221.7" y="214.1"/><use href="#sos" x="224.8" y="213.2"/><use href="#sos" x="227.7" y="211.9"/><use href="#sos" x="230.6" y="210.6"/><use href="#sos" x="233.5" y="209.3"/><use href="#sos" x="236.5" y="208"/><use href="#sos" x="239.4" y="206.7"/><use href="#sos" x="242.2" y="205.1"/><use href="#sos" x="244.8" y="203.4"/><use href="#sos" x="247.5" y="201.6"/><use href="#sos" x="250.2" y="199.9"/><use href="#sos" x="252.9" y="198.1"/><use href="#sos" x="255.6" y="196.4"/><use href="#sos" x="258.2" y="194.5"/><use href="#sos" x="260.8" y="192.7"/><use href="#sos" x="263.4" y="190.8"/><use href="#sos" x="265.9" y="188.9"/><use href="#sos" x="268.5" y="187"/><use href="#sos" x="270.7" y="184.6"/><use href="#sos" x="272.8" y="182.2"/><use href="#sos" x="275" y="179.9"/><use href="#sos" x="277.2" y="177.6"/><use href="#sos" x="279.6" y="175.4"/><use href="#sos" x="281.9" y="173.3"/><use href="#sos" x="284.3" y="171.1"/><use href="#sos" x="286.7" y="169"/><use href="#sos" x="289" y="166.8"/><use href="#sos" x="291.3" y="164.6"/><use href="#sos" x="293.6" y="162.3"/><use href="#sos" x="295.9" y="160.1"/><use href="#sos" x="298.2" y="157.9"/><use href="#sos" x="300.8" y="156.1"/><use href="#sos" x="303.6" y="154.5"/><use href="#sos" x="306.2" y="152.7"/><use href="#sos" x="308.5" y="150.4"/><use href="#sos" x="310.8" y="148.2"/><use href="#sos" x="313" y="145.9"/><use href="#sos" x="315.3" y="143.7"/><use href="#sos" x="317.6" y="141.4"/><use href="#sos" x="319.9" y="139.2"/><use href="#sos" x="322.1" y="136.9"/><use href="#sos" x="324.4" y="134.7"/><use href="#sos" x="326.7" y="132.5"/><use href="#sos" x="329.1" y="130.3"/><use href="#sos" x="331.5" y="128.2"/><use href="#sos" x="333.8" y="126"/><use href="#sos" x="335.8" y="123.5"/><use href="#sos" x="337.7" y="120.9"/><use href="#sos" x="339.7" y="118.4"/><use href="#sos" x="341.6" y="115.9"/><use href="#sos" x="344" y="113.7"/><use href="#sos" x="346.3" y="111.5"/><use href="#sos" x="348.7" y="109.3"/><use href="#sos" x="351" y="107.1"/><use href="#sos" x="353.3" y="104.9"/><use href="#sos" x="355.6" y="102.7"/><use href="#sos" x="357.9" y="100.5"/><use href="#sos" x="360.1" y="98.1"/><use href="#sos" x="362.3" y="95.8"/><use href="#sos" x="364.5" y="93.5"/><use href="#sos" x="366.6" y="91.1"/><use href="#sos" x="368.7" y="88.6"/><use href="#sos" x="370.7" y="86.2"/><use href="#sos" x="372.7" y="83.7"/><use href="#sos" x="374.8" y="81.3"/><use href="#sos" x="376.9" y="78.8"/><use href="#sos" x="378.9" y="76.4"/><use href="#sos" x="381" y="74"/><use href="#sos" x="383.3" y="71.7"/><use href="#sos" x="385.6" y="69.4"/><use href="#sos" x="387.8" y="67.2"/><use href="#sos" x="390.1" y="64.9"/><use href="#sos" x="392.4" y="62.6"/><use href="#sos" x="394.6" y="60.4"/><use href="#sos" x="397" y="58.2"/><use href="#sos" x="399.5" y="56.3"/><use href="#sos" x="402" y="54.3"/><use href="#sos" x="404.6" y="52.5"/><use href="#sos" x="407.3" y="50.7"/><use href="#sos" x="410" y="49"/><use href="#sos" x="412.8" y="47.4"/><use href="#sos" x="415.7" y="46"/><use href="#sos" x="418.6" y="44.9"/><use href="#sos" x="421.8" y="44.5"/><use href="#sos" x="423.8" y="44.2"/></g><rect x="347" y="222.7" width="139" height="112.30000000000001" fill="#fff" stroke="none"/><path d="M347,335v-3M347,222.7v3M353.4,335v-1.5M353.4,222.7v1.5M357.2,335v-1.5M357.2,222.7v1.5M359.9,335v-1.5M359.9,222.7v1.5M361.9,335v-1.5M361.9,222.7v1.5M363.6,335v-1.5M363.6,222.7v1.5M365.1,335v-1.5M365.1,222.7v1.5M366.3,335v-1.5M366.3,222.7v1.5M367.4,335v-1.5M367.4,222.7v1.5M368.4,335v-3M368.4,222.7v3M374.8,335v-1.5M374.8,222.7v1.5M378.6,335v-1.5M378.6,222.7v1.5M381.3,335v-1.5M381.3,222.7v1.5M383.3,335v-1.5M383.3,222.7v1.5M385,335v-1.5M385,222.7v1.5M386.5,335v-1.5M386.5,222.7v1.5M387.7,335v-1.5M387.7,222.7v1.5M388.8,335v-1.5M388.8,222.7v1.5M389.8,335v-3M389.8,222.7v3M396.2,335v-1.5M396.2,222.7v1.5M400,335v-1.5M400,222.7v1.5M402.6,335v-1.5M402.6,222.7v1.5M404.7,335v-1.5M404.7,222.7v1.5M406.4,335v-1.5M406.4,222.7v1.5M407.8,335v-1.5M407.8,222.7v1.5M409.1,335v-1.5M409.1,222.7v1.5M410.2,335v-1.5M410.2,222.7v1.5M411.2,335v-3M411.2,222.7v3M417.6,335v-1.5M417.6,222.7v1.5M421.4,335v-1.5M421.4,222.7v1.5M424,335v-1.5M424,222.7v1.5M426.1,335v-1.5M426.1,222.7v1.5M427.8,335v-1.5M427.8,222.7v1.5M429.2,335v-1.5M429.2,222.7v1.5M430.5,335v-1.5M430.5,222.7v1.5M431.6,335v-1.5M431.6,222.7v1.5M432.5,335v-3M432.5,222.7v3M439,335v-1.5M439,222.7v1.5M442.7,335v-1.5M442.7,222.7v1.5M445.4,335v-1.5M445.4,222.7v1.5M447.5,335v-1.5M447.5,222.7v1.5M449.2,335v-1.5M449.2,222.7v1.5M450.6,335v-1.5M450.6,222.7v1.5M451.9,335v-1.5M451.9,222.7v1.5M452.9,335v-1.5M452.9,222.7v1.5M453.9,335v-3M453.9,222.7v3M460.4,335v-1.5M460.4,222.7v1.5M464.1,335v-1.5M464.1,222.7v1.5M466.8,335v-1.5M466.8,222.7v1.5M468.9,335v-1.5M468.9,222.7v1.5M470.6,335v-1.5M470.6,222.7v1.5M472,335v-1.5M472,222.7v1.5M473.2,335v-1.5M473.2,222.7v1.5M474.3,335v-1.5M474.3,222.7v1.5M475.3,335v-3M475.3,222.7v3M481.7,335v-1.5M481.7,222.7v1.5M485.5,335v-1.5M485.5,222.7v1.5M347,335h3M486,335h-3M347,323.7h1.5M486,323.7h-1.5M347,317.1h1.5M486,317.1h-1.5M347,312.5h1.5M486,312.5h-1.5M347,308.8h1.5M486,308.8h-1.5M347,305.9h1.5M486,305.9h-1.5M347,303.4h1.5M486,303.4h-1.5M347,301.2h1.5M486,301.2h-1.5M347,299.3h1.5M486,299.3h-1.5M347,297.6h3M486,297.6h-3M347,286.3h1.5M486,286.3h-1.5M347,279.7h1.5M486,279.7h-1.5M347,275h1.5M486,275h-1.5M347,271.4h1.5M486,271.4h-1.5M347,268.4h1.5M486,268.4h-1.5M347,265.9h1.5M486,265.9h-1.5M347,263.8h1.5M486,263.8h-1.5M347,261.8h1.5M486,261.8h-1.5M347,260.1h3M486,260.1h-3M347,248.9h1.5M486,248.9h-1.5M347,242.3h1.5M486,242.3h-1.5M347,237.6h1.5M486,237.6h-1.5M347,234h1.5M486,234h-1.5M347,231h1.5M486,231h-1.5M347,228.5h1.5M486,228.5h-1.5M347,226.3h1.5M486,226.3h-1.5M347,224.4h1.5M486,224.4h-1.5M347,222.7h3M486,222.7h-3" stroke="#999" stroke-width="0.6" fill="none"/><rect x="347" y="222.7" width="139" height="112.3" fill="none" stroke="#777" stroke-width="0.9"/><text x="347" y="343.5" font-size="6" text-anchor="middle" fill="#555">10<tspan font-size="4" dy="-2.5">-5</tspan></text><text x="368.4" y="343.5" font-size="6" text-anchor="middle" fill="#555">10<tspan font-size="4" dy="-2.5">-4</tspan></text><text x="389.8" y="343.5" font-size="6" text-anchor="middle" fill="#555">10<tspan font-size="4" dy="-2.5">-3</tspan></text><text x="411.2" y="343.5" font-size="6" text-anchor="middle" fill="#555">10<tspan font-size="4" dy="-2.5">-2</tspan></text><text x="432.5" y="343.5" font-size="6" text-anchor="middle" fill="#555">10<tspan font-size="4" dy="-2.5">-1</tspan></text><text x="453.9" y="343.5" font-size="6" text-anchor="middle" fill="#555">10<tspan font-size="4" dy="-2.5">0</tspan></text><text x="475.3" y="343.5" font-size="6" text-anchor="middle" fill="#555">10<tspan font-size="4" dy="-2.5">1</tspan></text><text x="344.5" y="337.3" font-size="6" text-anchor="end" fill="#555">10<tspan font-size="4" dy="-2.5">-2</tspan></text><text x="344.5" y="299.9" font-size="6" text-anchor="end" fill="#555">10<tspan font-size="4" dy="-2.5">-1</tspan></text><text x="344.5" y="262.4" font-size="6" text-anchor="end" fill="#555">10<tspan font-size="4" dy="-2.5">0</tspan></text><text x="344.5" y="225" font-size="6" text-anchor="end" fill="#555">10<tspan font-size="4" dy="-2.5">1</tspan></text><text x="0" y="0" font-size="10.3" text-anchor="middle" fill="#222" transform="translate(326.5,278.5) rotate(-90)">G' / G<tspan font-size="6.8" dy="3.2">N</tspan><tspan font-size="6.8" dy="-7" dx="-4.6">0</tspan><tspan dy="3.8">, G''/ G</tspan><tspan font-size="6.8" dy="3.2">N</tspan><tspan font-size="6.8" dy="-7" dx="-4.6">0</tspan></text><text x="418" y="353.6" font-size="11.5" text-anchor="middle" fill="#333"><tspan font-family="Liberation Serif">ωτ</tspan><tspan font-size="7.5" dy="2.5">c</tspan></text><use href="#io" x="349.6" y="315.8"/><use href="#io" x="352" y="305.7"/><use href="#io" x="355.8" y="299.5"/><use href="#io" x="359.6" y="294.6"/><use href="#io" x="364.2" y="291.5"/><use href="#io" x="369.6" y="288.5"/><use href="#io" x="375.8" y="286.5"/><use href="#io" x="375.8" y="286.5"/><use href="#io" x="377.8" y="286.6"/><use href="#io" x="379.8" y="286.7"/><use href="#io" x="381.8" y="286.8"/><use href="#io" x="383.8" y="286.9"/><use href="#io" x="385.8" y="287"/><use href="#io" x="387.8" y="287.1"/><use href="#io" x="389.8" y="287.2"/><use href="#io" x="391.8" y="287.3"/><use href="#io" x="393.8" y="287.4"/><use href="#io" x="395.8" y="287.5"/><use href="#io" x="397.8" y="287.6"/><use href="#io" x="399.8" y="287.7"/><use href="#io" x="401.8" y="287.8"/><use href="#io" x="403.8" y="287.9"/><use href="#io" x="405.8" y="288.1"/><use href="#io" x="407.8" y="288.2"/><use href="#io" x="409.7" y="288.4"/><use href="#io" x="411.7" y="288.5"/><use href="#io" x="413.7" y="288.7"/><use href="#io" x="415.7" y="288.7"/><use href="#io" x="417.7" y="288.5"/><use href="#io" x="419.7" y="288.3"/><use href="#io" x="421.7" y="288.1"/><use href="#io" x="423.7" y="287.8"/><use href="#io" x="425.5" y="287.2"/><use href="#io" x="427" y="285.9"/><use href="#io" x="428.4" y="284.5"/><use href="#io" x="429.9" y="283.2"/><use href="#io" x="431.4" y="281.9"/><use href="#io" x="433" y="280.7"/><use href="#io" x="434.6" y="279.5"/><use href="#io" x="436.2" y="278.3"/><use href="#io" x="437.8" y="277.1"/><use href="#io" x="439.4" y="275.8"/><use href="#io" x="440.9" y="274.5"/><use href="#io" x="442.4" y="273.2"/><use href="#io" x="444" y="272"/><use href="#io" x="445.5" y="270.7"/><use href="#io" x="446.9" y="269.3"/><use href="#io" x="448.3" y="267.8"/><use href="#io" x="449.7" y="266.4"/><use href="#io" x="451.1" y="264.9"/><use href="#io" x="452.5" y="263.5"/><use href="#io" x="453.9" y="262.1"/><use href="#io" x="455.3" y="260.7"/><use href="#io" x="456.7" y="259.3"/><use href="#io" x="458.1" y="257.8"/><use href="#io" x="459.4" y="256.3"/><use href="#io" x="460.6" y="254.7"/><use href="#io" x="461.8" y="253.1"/><use href="#io" x="463" y="251.5"/><use href="#io" x="464.3" y="250"/><use href="#io" x="465.5" y="248.4"/><use href="#io" x="466.8" y="246.9"/><use href="#io" x="468.1" y="245.3"/><use href="#io" x="469.4" y="243.8"/><use href="#io" x="470.7" y="242.3"/><use href="#io" x="472" y="240.8"/><use href="#io" x="473.2" y="239.2"/><use href="#io" x="474.4" y="237.6"/><use href="#io" x="475.7" y="236"/><use href="#io" x="476.9" y="234.5"/><use href="#io" x="478.3" y="233"/><use href="#io" x="479.6" y="231.5"/><use href="#io" x="481" y="230"/><use href="#io" x="482.3" y="228.6"/><use href="#io" x="483.7" y="227.2"/><use href="#io" x="485.1" y="225.7"/><use href="#io" x="485.8" y="225"/><use href="#ig" x="351.2" y="327.7"/><use href="#ig" x="355.5" y="315.8"/><use href="#ig" x="359.6" y="305"/><use href="#ig" x="364" y="296"/><use href="#ig" x="368.5" y="290"/><use href="#ig" x="373" y="285"/><use href="#ig" x="377.3" y="281.5"/><use href="#im" x="353.5" y="331.5"/><use href="#im" x="358" y="320"/><use href="#im" x="362.2" y="308.8"/><use href="#im" x="366.5" y="300"/><use href="#im" x="371" y="292.5"/><use href="#im" x="375" y="287"/><use href="#ik" x="357.6" y="322.6"/><use href="#ik" x="362" y="311"/><use href="#ik" x="366.5" y="300.5"/><use href="#ik" x="370.8" y="292.8"/><use href="#ik" x="375" y="287.5"/><use href="#ik" x="378.8" y="282.3"/><use href="#im" x="379.1" y="282.9"/><use href="#im" x="380.6" y="281.6"/><use href="#im" x="382.1" y="280.3"/><use href="#im" x="383.7" y="279"/><use href="#im" x="385.2" y="277.7"/><use href="#im" x="386.8" y="276.6"/><use href="#im" x="388.5" y="275.5"/><use href="#im" x="390.2" y="274.4"/><use href="#im" x="391.9" y="273.4"/><use href="#im" x="393.8" y="272.8"/><use href="#im" x="395.7" y="272.1"/><use href="#im" x="397.6" y="271.5"/><use href="#im" x="399.5" y="270.9"/><use href="#im" x="401.4" y="270.2"/><use href="#im" x="403.3" y="269.6"/><use href="#im" x="405.2" y="268.9"/><use href="#im" x="407" y="268.2"/><use href="#im" x="408.9" y="267.6"/><use href="#im" x="410.9" y="267"/><use href="#im" x="412.8" y="266.4"/><use href="#im" x="414.7" y="265.8"/><use href="#im" x="416.6" y="265.3"/><use href="#im" x="418.5" y="264.8"/><use href="#im" x="420.5" y="264.3"/><use href="#im" x="422.4" y="263.8"/><use href="#im" x="424.4" y="263.4"/><use href="#im" x="426.3" y="262.9"/><use href="#im" x="428.2" y="262.4"/><use href="#im" x="430.2" y="261.9"/><use href="#im" x="432.1" y="261.4"/><use href="#im" x="434.1" y="260.9"/><use href="#im" x="436" y="260.5"/><use href="#im" x="437.9" y="260"/><use href="#im" x="439.9" y="259.5"/><use href="#im" x="441.8" y="259"/><use href="#im" x="443.8" y="258.5"/><use href="#im" x="445.7" y="258"/><use href="#im" x="447.6" y="257.3"/><use href="#im" x="449.4" y="256.6"/><use href="#im" x="451.3" y="255.8"/><use href="#im" x="453.2" y="255.1"/><use href="#im" x="455" y="254.4"/><use href="#im" x="456.9" y="253.6"/><use href="#im" x="458.7" y="252.9"/><use href="#im" x="460.6" y="252.2"/><use href="#im" x="462.4" y="251.2"/><use href="#im" x="464" y="250.1"/><use href="#im" x="465.7" y="249.1"/><use href="#im" x="467.4" y="248"/><use href="#im" x="469.1" y="246.9"/><use href="#im" x="470.7" y="245.8"/><use href="#im" x="472.4" y="244.7"/><use href="#im" x="474.1" y="243.6"/><use href="#im" x="475.7" y="242.5"/><use href="#im" x="477.4" y="241.4"/><use href="#im" x="479.1" y="240.3"/><use href="#im" x="480.7" y="239.2"/><use href="#im" x="482.4" y="238.1"/><use href="#im" x="484.1" y="237"/><use href="#im" x="486.1" y="235.6"/><use href="#ik" x="378.8" y="283.1"/><use href="#ik" x="380.3" y="281.8"/><use href="#ik" x="381.8" y="280.5"/><use href="#ik" x="383.4" y="279.2"/><use href="#ik" x="384.9" y="277.9"/><use href="#ik" x="386.5" y="276.8"/><use href="#ik" x="388.2" y="275.7"/><use href="#ik" x="389.9" y="274.6"/><use href="#ik" x="391.6" y="273.6"/><use href="#ik" x="393.5" y="273"/><use href="#ik" x="395.4" y="272.3"/><use href="#ik" x="397.3" y="271.7"/><use href="#ik" x="399.2" y="271.1"/><use href="#ik" x="401.1" y="270.4"/><use href="#ik" x="403" y="269.8"/><use href="#ik" x="404.9" y="269.1"/><use href="#ik" x="406.7" y="268.4"/><use href="#ik" x="408.6" y="267.8"/><use href="#ik" x="410.6" y="267.2"/><use href="#ik" x="412.5" y="266.6"/><use href="#ik" x="414.4" y="266"/><use href="#ik" x="416.3" y="265.5"/><use href="#ik" x="418.2" y="265"/><use href="#ik" x="420.2" y="264.5"/><use href="#ik" x="422.1" y="264"/><use href="#ik" x="424.1" y="263.6"/><use href="#ik" x="426" y="263.1"/><use href="#ik" x="427.9" y="262.6"/><use href="#ik" x="429.9" y="262.1"/><use href="#ik" x="431.8" y="261.6"/><use href="#ik" x="433.8" y="261.1"/><use href="#ik" x="435.7" y="260.7"/><use href="#ik" x="437.6" y="260.2"/><use href="#ik" x="439.6" y="259.7"/><use href="#ik" x="441.5" y="259.2"/><use href="#ik" x="443.5" y="258.7"/><use href="#ik" x="445.4" y="258.2"/><use href="#ik" x="447.3" y="257.5"/><use href="#ik" x="449.1" y="256.8"/><use href="#ik" x="451" y="256"/><use href="#ik" x="452.9" y="255.3"/><use href="#ik" x="454.7" y="254.6"/><use href="#ik" x="456.6" y="253.8"/><use href="#ik" x="458.4" y="253.1"/><use href="#ik" x="460.3" y="252.4"/><use href="#ik" x="462.1" y="251.4"/><use href="#ik" x="463.7" y="250.3"/><use href="#ik" x="465.4" y="249.3"/><use href="#ik" x="467.1" y="248.2"/><use href="#ik" x="468.8" y="247.1"/><use href="#ik" x="470.4" y="246"/><use href="#ik" x="472.1" y="244.9"/><use href="#ik" x="473.8" y="243.8"/><use href="#ik" x="475.4" y="242.7"/><use href="#ik" x="477.1" y="241.6"/><use href="#ik" x="478.8" y="240.5"/><use href="#ik" x="480.4" y="239.4"/><use href="#ik" x="482.1" y="238.3"/><use href="#ik" x="483.8" y="237.2"/><use href="#ik" x="485.8" y="235.8"/><path d="M74.7,800v-6M74.7,455v6M93.1,800v-3M93.1,455v3M103.9,800v-3M103.9,455v3M111.5,800v-3M111.5,455v3M117.5,800v-3M117.5,455v3M122.3,800v-3M122.3,455v3M126.4,800v-3M126.4,455v3M130,800v-3M130,455v3M133.1,800v-3M133.1,455v3M135.9,800v-6M135.9,455v6M154.3,800v-3M154.3,455v3M165.1,800v-3M165.1,455v3M172.7,800v-3M172.7,455v3M178.7,800v-3M178.7,455v3M183.5,800v-3M183.5,455v3M187.6,800v-3M187.6,455v3M191.1,800v-3M191.1,455v3M194.3,800v-3M194.3,455v3M197.1,800v-6M197.1,455v6M215.5,800v-3M215.5,455v3M226.3,800v-3M226.3,455v3M233.9,800v-3M233.9,455v3M239.8,800v-3M239.8,455v3M244.7,800v-3M244.7,455v3M248.8,800v-3M248.8,455v3M252.3,800v-3M252.3,455v3M255.5,800v-3M255.5,455v3M258.3,800v-6M258.3,455v6M276.7,800v-3M276.7,455v3M287.5,800v-3M287.5,455v3M295.1,800v-3M295.1,455v3M301,800v-3M301,455v3M305.9,800v-3M305.9,455v3M310,800v-3M310,455v3M313.5,800v-3M313.5,455v3M316.6,800v-3M316.6,455v3M319.4,800v-6M319.4,455v6M337.9,800v-3M337.9,455v3M348.6,800v-3M348.6,455v3M356.3,800v-3M356.3,455v3M362.2,800v-3M362.2,455v3M367.1,800v-3M367.1,455v3M371.2,800v-3M371.2,455v3M374.7,800v-3M374.7,455v3M377.8,800v-3M377.8,455v3M380.6,800v-6M380.6,455v6M399,800v-3M399,455v3M409.8,800v-3M409.8,455v3M417.5,800v-3M417.5,455v3M423.4,800v-3M423.4,455v3M428.2,800v-3M428.2,455v3M432.3,800v-3M432.3,455v3M435.9,800v-3M435.9,455v3M439,800v-3M439,455v3M441.8,800v-6M441.8,455v6M460.2,800v-3M460.2,455v3M471,800v-3M471,455v3M478.7,800v-3M478.7,455v3M484.6,800v-3M484.6,455v3M489.4,800v-3M489.4,455v3M493.5,800v-3M493.5,455v3M497.1,800v-3M497.1,455v3M500.2,800v-3M500.2,455v3M503,800v-6M503,455v6M74.7,780.8h6M503,780.8h-6M74.7,761.7h3M503,761.7h-3M74.7,742.5h6M503,742.5h-6M74.7,723.3h3M503,723.3h-3M74.7,704.2h6M503,704.2h-6M74.7,685h3M503,685h-3M74.7,665.8h6M503,665.8h-6M74.7,646.7h3M503,646.7h-3M74.7,627.5h6M503,627.5h-6M74.7,608.3h3M503,608.3h-3M74.7,589.2h6M503,589.2h-6M74.7,570h3M503,570h-3M74.7,550.8h6M503,550.8h-6M74.7,531.7h3M503,531.7h-3M74.7,512.5h6M503,512.5h-6M74.7,493.3h3M503,493.3h-3M74.7,474.2h6M503,474.2h-6" stroke="#000" stroke-width="1.2" fill="none"/><rect x="74.7" y="455" width="428.3" height="345" fill="none" stroke="#000" stroke-width="1.6"/><text x="67.3" y="787.7" font-size="19.5" text-anchor="end" fill="#000">10</text><text x="67.3" y="749.4" font-size="19.5" text-anchor="end" fill="#000">20</text><text x="67.3" y="711.1" font-size="19.5" text-anchor="end" fill="#000">30</text><text x="67.3" y="672.7" font-size="19.5" text-anchor="end" fill="#000">40</text><text x="67.3" y="634.4" font-size="19.5" text-anchor="end" fill="#000">50</text><text x="67.3" y="596.1" font-size="19.5" text-anchor="end" fill="#000">60</text><text x="67.3" y="557.7" font-size="19.5" text-anchor="end" fill="#000">70</text><text x="67.3" y="519.4" font-size="19.5" text-anchor="end" fill="#000">80</text><text x="67.3" y="481.1" font-size="19.5" text-anchor="end" fill="#000">90</text><text x="76.2" y="826" font-size="19.5" text-anchor="middle" fill="#000">10<tspan font-size="12.5" dy="-8.5">2</tspan></text><text x="137.4" y="826" font-size="19.5" text-anchor="middle" fill="#000">10<tspan font-size="12.5" dy="-8.5">3</tspan></text><text x="198.6" y="826" font-size="19.5" text-anchor="middle" fill="#000">10<tspan font-size="12.5" dy="-8.5">4</tspan></text><text x="259.8" y="826" font-size="19.5" text-anchor="middle" fill="#000">10<tspan font-size="12.5" dy="-8.5">5</tspan></text><text x="320.9" y="826" font-size="19.5" text-anchor="middle" fill="#000">10<tspan font-size="12.5" dy="-8.5">6</tspan></text><text x="382.1" y="826" font-size="19.5" text-anchor="middle" fill="#000">10<tspan font-size="12.5" dy="-8.5">7</tspan></text><text x="443.3" y="826" font-size="19.5" text-anchor="middle" fill="#000">10<tspan font-size="12.5" dy="-8.5">8</tspan></text><text x="504.5" y="826" font-size="19.5" text-anchor="middle" fill="#000">10<tspan font-size="12.5" dy="-8.5">9</tspan></text><text x="0.6" y="455.5" font-size="23" text-anchor="start" fill="#000">(</text><text x="8.1" y="455.5" font-size="23" text-anchor="start" fill="#000">b</text><text x="23.1" y="455.5" font-size="23" text-anchor="start" fill="#000">)</text><text x="0" y="0" font-size="22.5" text-anchor="middle" transform="translate(22.5,614) rotate(-90)"><tspan font-family="Liberation Serif" font-size="26">δ</tspan> [°]</text><text x="288.2" y="857.5" font-size="22.5" text-anchor="middle" fill="#000">G* [Pa]</text><g clip-path="url(#clipB)"><use href="#so" x="168.5" y="488"/><use href="#so" x="180.8" y="494.5"/><use href="#so" x="192" y="504.3"/><use href="#so" x="203.8" y="516"/><use href="#so" x="215.2" y="533.5"/><use href="#so" x="225.4" y="560"/><use href="#so" x="233.5" y="587.2"/><use href="#so" x="241.8" y="621"/><use href="#so" x="252.5" y="676.7"/><use href="#so" x="255.8" y="695"/><use href="#so" x="259.8" y="712.3"/><use href="#so" x="262.7" y="726.2"/><use href="#so" x="265" y="737.7"/><use href="#so" x="267.3" y="747.7"/><use href="#so" x="269.6" y="755.4"/><use href="#so" x="271.9" y="761.5"/><use href="#so" x="273.5" y="766.9"/><use href="#so" x="275.8" y="770"/><use href="#so" x="278.1" y="769.2"/><use href="#so" x="279.6" y="763.1"/><use href="#so" x="281.2" y="756.9"/><use href="#so" x="282.7" y="749.2"/><use href="#so" x="284.2" y="741.5"/><use href="#so" x="285.8" y="736.9"/><use href="#so" x="287.3" y="727.7"/><use href="#so" x="288.8" y="723.8"/><use href="#so" x="290.4" y="714.6"/><use href="#so" x="291.9" y="709.2"/><use href="#so" x="294.2" y="700"/><use href="#so" x="295.8" y="693.8"/><use href="#so" x="298.8" y="683.1"/><use href="#so" x="300.4" y="676.9"/><use href="#so" x="305.8" y="660"/><use href="#so" x="308.8" y="652.3"/><use href="#so" x="311.9" y="644.6"/><use href="#so" x="315.8" y="635.4"/><use href="#so" x="318.8" y="629.2"/><use href="#so" x="321.9" y="619.2"/><use href="#so" x="325.8" y="614.6"/><use href="#so" x="377.7" y="542.5"/><use href="#so" x="381.8" y="538.9"/><use href="#so" x="386.4" y="536"/><use href="#so" x="391.6" y="534.4"/><use href="#so" x="397.1" y="534.2"/><use href="#so" x="402.5" y="535.2"/><use href="#so" x="407.7" y="536.9"/><use href="#so" x="413" y="539"/><use href="#so" x="330.4" y="603.1"/><use href="#so" x="332.7" y="598.4"/><use href="#so" x="335.2" y="593.9"/><use href="#so" x="337.7" y="589.3"/><use href="#so" x="340.9" y="585.3"/><use href="#so" x="343.4" y="580.7"/><use href="#so" x="345.8" y="576.1"/><use href="#so" x="348.5" y="571.7"/><use href="#so" x="352" y="567.8"/><use href="#so" x="355" y="563.6"/><use href="#so" x="358.4" y="559.7"/><use href="#so" x="361.7" y="555.7"/><use href="#so" x="364.8" y="551.5"/><use href="#so" x="367.9" y="547.3"/><use href="#so" x="370.9" y="543.1"/><use href="#so" x="374.2" y="539.2"/><use href="#so" x="378.9" y="536.9"/><use href="#so" x="383.2" y="534.1"/><use href="#so" x="387.7" y="531.5"/><use href="#so" x="392.9" y="530.8"/><use href="#so" x="397.6" y="528.6"/><use href="#so" x="402.5" y="529.9"/><use href="#so" x="407.1" y="527.9"/><use href="#so" x="410" y="530.8"/><use href="#so" x="410" y="530.8"/><use href="#so" x="414.1" y="532.6"/><use href="#so" x="418.2" y="534.5"/><use href="#so" x="421.9" y="537.1"/><use href="#so" x="425.5" y="539.8"/><use href="#so" x="428.8" y="542.8"/><use href="#so" x="431.8" y="546.2"/><use href="#so" x="434.5" y="549.8"/><use href="#so" x="436.9" y="553.5"/><use href="#so" x="438.2" y="555.5"/><use href="#so" x="449.5" y="574"/><use href="#so" x="458.6" y="594.8"/><use href="#so" x="465.6" y="618"/><use href="#so" x="473.2" y="638.7"/><use href="#so" x="480" y="661.8"/><use href="#dob" x="144.5" y="525"/><use href="#dob" x="154.8" y="543.8"/><use href="#dob" x="164.5" y="570.5"/><use href="#dob" x="173.2" y="600.5"/><use href="#dob" x="181" y="630"/><use href="#dob" x="186" y="657"/><use href="#dob" x="190.8" y="680"/><use href="#dob" x="193.1" y="696.9"/><use href="#dob" x="200.8" y="716"/><use href="#dob" x="201.5" y="723.8"/><use href="#dob" x="203.1" y="732.3"/><use href="#dob" x="204.6" y="737"/><use href="#dob" x="206.2" y="744.6"/><use href="#dob" x="207.7" y="750.8"/><use href="#dob" x="209.2" y="755.4"/><use href="#dob" x="211.5" y="760"/><use href="#dob" x="213.8" y="763.8"/><use href="#dob" x="216.2" y="766.5"/><use href="#dob" x="219.1" y="760.1"/><use href="#dob" x="220.9" y="753.4"/><use href="#dob" x="222.6" y="746.6"/><use href="#dob" x="224.2" y="739.8"/><use href="#dob" x="226" y="733"/><use href="#dob" x="227.7" y="726.2"/><use href="#dob" x="229.2" y="719.4"/><use href="#dob" x="230.5" y="712.5"/><use href="#dob" x="231.8" y="705.6"/><use href="#dob" x="233.6" y="698.9"/><use href="#dob" x="235.8" y="692.2"/><use href="#dob" x="238.1" y="685.6"/><use href="#dob" x="240" y="678.9"/><use href="#dob" x="241.6" y="672.1"/><use href="#dob" x="244.2" y="665.6"/><use href="#dob" x="246" y="658.8"/><use href="#dob" x="247.7" y="652"/><use href="#dob" x="249.6" y="645.3"/><use href="#dob" x="252.2" y="638.8"/><use href="#dob" x="254.8" y="632.3"/><use href="#dob" x="257.3" y="625.8"/><use href="#dob" x="260.1" y="619.3"/><use href="#dob" x="263.5" y="613.3"/><use href="#dob" x="266.5" y="607"/><use href="#dob" x="269.6" y="600.7"/><use href="#dob" x="273" y="594.6"/><use href="#dob" x="275.9" y="588.3"/><use href="#dob" x="280.2" y="582.7"/><use href="#dob" x="284" y="576.8"/><use href="#dob" x="287.8" y="571"/><use href="#dob" x="292" y="565.4"/><use href="#dob" x="296.7" y="560.2"/><use href="#dob" x="301.4" y="555"/><use href="#dob" x="306.2" y="550"/><use href="#dob" x="312" y="546"/><use href="#dob" x="317.1" y="541.4"/><use href="#dob" x="323.4" y="538.3"/><use href="#dob" x="327.7" y="535.4"/><use href="#dob" x="332.3" y="532.7"/><use href="#dob" x="340" y="529.6"/><use href="#dob" x="349.2" y="526.5"/><use href="#dob" x="358.5" y="524.2"/><use href="#dob" x="366.9" y="521.9"/><use href="#dob" x="376.2" y="521.5"/><use href="#dob" x="385.4" y="520.8"/><use href="#dob" x="394.6" y="520.8"/><use href="#dob" x="400.8" y="520.8"/><use href="#dob" x="400.8" y="520.8"/><use href="#dob" x="405.2" y="521.7"/><use href="#dob" x="409.5" y="523.1"/><use href="#dob" x="413.5" y="525"/><use href="#dob" x="416.9" y="527.9"/><use href="#dob" x="420.4" y="530.8"/><use href="#dob" x="424" y="533.5"/><use href="#dob" x="427.5" y="536.3"/><use href="#dob" x="430.9" y="539.2"/><use href="#dob" x="434" y="542.5"/><use href="#dob" x="436.7" y="546"/><use href="#dob" x="439.3" y="549.7"/><use href="#dob" x="448.5" y="557.8"/><use href="#dob" x="455.5" y="576.3"/><use href="#dob" x="463.5" y="594.8"/><use href="#dob" x="470.5" y="618"/><use href="#dob" x="475.5" y="638.7"/><use href="#dob" x="481.5" y="660"/><use href="#dob" x="486.5" y="690"/><use href="#dob" x="487.4" y="704.2"/><use href="#dob" x="490.3" y="719.9"/><use href="#dob" x="492.6" y="732.6"/><use href="#cob" x="112.6" y="530.1"/><use href="#cob" x="123.3" y="554.5"/><use href="#cob" x="132.8" y="581.5"/><use href="#cob" x="140.3" y="615.5"/><use href="#cob" x="147" y="644.5"/><use href="#cob" x="152" y="670"/><use href="#cob" x="156.2" y="690"/><use href="#cob" x="158.5" y="698.2"/><use href="#cob" x="160" y="706.2"/><use href="#cob" x="162.3" y="713.1"/><use href="#cob" x="163.8" y="720.8"/><use href="#cob" x="165.4" y="726.2"/><use href="#cob" x="166.9" y="732.3"/><use href="#cob" x="168.5" y="737.7"/><use href="#cob" x="170" y="744.6"/><use href="#cob" x="171.5" y="750"/><use href="#cob" x="173.1" y="755.4"/><use href="#cob" x="174.6" y="760"/><use href="#cob" x="176.2" y="763.8"/><use href="#cob" x="178.5" y="766.9"/><use href="#cob" x="180.8" y="769.2"/><use href="#cob" x="182.3" y="767.7"/><use href="#cob" x="184.6" y="761.3"/><use href="#cob" x="185.9" y="754.6"/><use href="#cob" x="187.6" y="748"/><use href="#cob" x="189.2" y="741.4"/><use href="#cob" x="190.5" y="734.8"/><use href="#cob" x="192" y="728.1"/><use href="#cob" x="193.4" y="721.5"/><use href="#cob" x="194.5" y="714.8"/><use href="#cob" x="196.1" y="708.2"/><use href="#cob" x="197.5" y="701.5"/><use href="#cob" x="199" y="694.9"/><use href="#cob" x="200.7" y="688.3"/><use href="#cob" x="202.6" y="681.8"/><use href="#cob" x="204.1" y="675.2"/><use href="#cob" x="206.2" y="668.7"/><use href="#cob" x="208.4" y="662.3"/><use href="#cob" x="210.4" y="655.8"/><use href="#cob" x="212.4" y="649.3"/><use href="#cob" x="214.6" y="642.9"/><use href="#cob" x="217" y="636.5"/><use href="#cob" x="220.8" y="627.7"/><use href="#cob" x="226.2" y="613.1"/><use href="#cob" x="230" y="607.7"/><use href="#cob" x="233.1" y="600"/><use href="#cob" x="236.9" y="593.8"/><use href="#cob" x="240.8" y="587.7"/><use href="#cob" x="243.8" y="581.5"/><use href="#cob" x="247.7" y="575.4"/><use href="#cob" x="251.5" y="570"/><use href="#cob" x="256.2" y="562.3"/><use href="#cob" x="260.8" y="555.4"/><use href="#cob" x="265.4" y="550.8"/><use href="#cob" x="270.8" y="546.9"/><use href="#cob" x="275" y="540.5"/><use href="#cob" x="280" y="537"/><use href="#cob" x="284.3" y="534"/><use href="#cob" x="290.5" y="530.5"/><use href="#cob" x="297" y="527.5"/><use href="#cob" x="304.3" y="523.6"/><use href="#cob" x="312.3" y="519.6"/><use href="#cob" x="321.5" y="515.8"/><use href="#cob" x="330.8" y="513.9"/><use href="#cob" x="340" y="513.5"/><use href="#cob" x="349.2" y="513.5"/><use href="#cob" x="357.7" y="513.9"/><use href="#cob" x="366.9" y="514.5"/><use href="#cob" x="375.4" y="515.8"/><use href="#cob" x="385.4" y="515.4"/><use href="#cob" x="393" y="515.4"/><use href="#cob" x="402.3" y="516.9"/><use href="#cob" x="414.6" y="519.2"/><use href="#cob" x="423.8" y="524.6"/><use href="#cob" x="433.1" y="533.8"/><use href="#cob" x="440.8" y="543"/><use href="#cob" x="442.3" y="548.5"/><use href="#cob" x="448.5" y="550.8"/><use href="#cob" x="450" y="563"/><use href="#cob" x="452.3" y="568.5"/><use href="#cob" x="457.7" y="582.3"/><use href="#cob" x="459.2" y="587.7"/><use href="#cob" x="464.6" y="603"/><use href="#cob" x="466.2" y="608.5"/><use href="#cob" x="470.8" y="625.8"/><use href="#cob" x="471.6" y="631.8"/><use href="#cob" x="476.1" y="649.1"/><use href="#cob" x="477.6" y="654.4"/><use href="#cob" x="480.6" y="670.2"/><use href="#cob" x="481.8" y="677"/><use href="#cob" x="485.1" y="687.5"/><use href="#cob" x="484.4" y="697.3"/><use href="#cob" x="487.8" y="713.8"/><use href="#cob" x="491.2" y="726.6"/><use href="#ast" x="85.5" y="488.1"/><use href="#ast" x="98.3" y="478.4"/><use href="#ast" x="108.3" y="473.2"/><use href="#ast" x="121.4" y="485.5"/><use href="#ast" x="132.9" y="478.8"/><use href="#ast" x="144.5" y="478.4"/><use href="#ast" x="156.9" y="470.4"/><use href="#ast" x="156.9" y="475"/><use href="#ast" x="169.2" y="471.9"/><use href="#ast" x="169.2" y="475.8"/><use href="#ast" x="181.5" y="475"/><use href="#ast" x="181.5" y="480.4"/><use href="#ast" x="193.8" y="472.7"/><use href="#ast" x="193.8" y="475"/><use href="#ast" x="206.2" y="475"/><use href="#ast" x="217.7" y="470.4"/><use href="#ast" x="217.7" y="475"/><use href="#ast" x="225.4" y="475"/><use href="#ast" x="225.4" y="475"/><use href="#ast" x="235.9" y="474.8"/><use href="#ast" x="246.4" y="474.8"/><use href="#ast" x="256.9" y="475.5"/><use href="#ast" x="267.3" y="476.2"/><use href="#ast" x="277.8" y="476.8"/><use href="#ast" x="288.2" y="478.4"/><use href="#ast" x="303.1" y="480.4"/><use href="#ast" x="303.1" y="480.4"/><use href="#ast" x="309.7" y="482.9"/><use href="#ast" x="316.2" y="485.3"/><use href="#ast" x="322.8" y="487.8"/><use href="#ast" x="329.2" y="490.5"/><use href="#ast" x="335.2" y="494"/><use href="#ast" x="341.4" y="497.2"/><use href="#ast" x="347.7" y="500.4"/><use href="#ast" x="354" y="503.5"/><use href="#ast" x="360.5" y="505.9"/><use href="#ast" x="367.3" y="507.7"/><use href="#ast" x="374.2" y="508.8"/><use href="#ast" x="381.1" y="508.1"/><use href="#ast" x="388.1" y="508.1"/><use href="#ast" x="395" y="509.1"/><use href="#ast" x="402" y="510.1"/><use href="#ast" x="408.4" y="512.2"/><use href="#ast" x="414.3" y="516"/><use href="#ast" x="420.6" y="519"/><use href="#ast" x="426.1" y="523.2"/><use href="#ast" x="431.3" y="527.9"/><use href="#ast" x="436" y="533.1"/><use href="#ast" x="440.5" y="539.3"/><use href="#ast" x="447.4" y="555.5"/><use href="#ast" x="454.3" y="574"/><use href="#ast" x="462.4" y="594.8"/><use href="#ast" x="469.4" y="618"/><use href="#ast" x="474" y="638.7"/><use href="#ast" x="478.1" y="662.6"/><use href="#ast" x="483.9" y="684.6"/><use href="#ast" x="486.8" y="701.3"/><use href="#ast" x="488.6" y="715.8"/></g><use href="#sol" x="333.6" y="704.6"/><use href="#dol" x="332.9" y="726.7"/><use href="#cob" x="332.9" y="748.6"/><use href="#ast" x="332.9" y="770.8"/><text x="358.8" y="710.8" font-size="18" text-anchor="start" fill="#000">PS-285k</text><text x="358.8" y="733" font-size="18" text-anchor="start" fill="#ff00ff">PS-864k/4k-33</text><text x="358.8" y="755" font-size="18" text-anchor="start" fill="#008000">PS-1760k/4k-18</text><text x="358.8" y="777.3" font-size="18" text-anchor="start" fill="#808080">OS-4k</text></svg>
</body></html>
